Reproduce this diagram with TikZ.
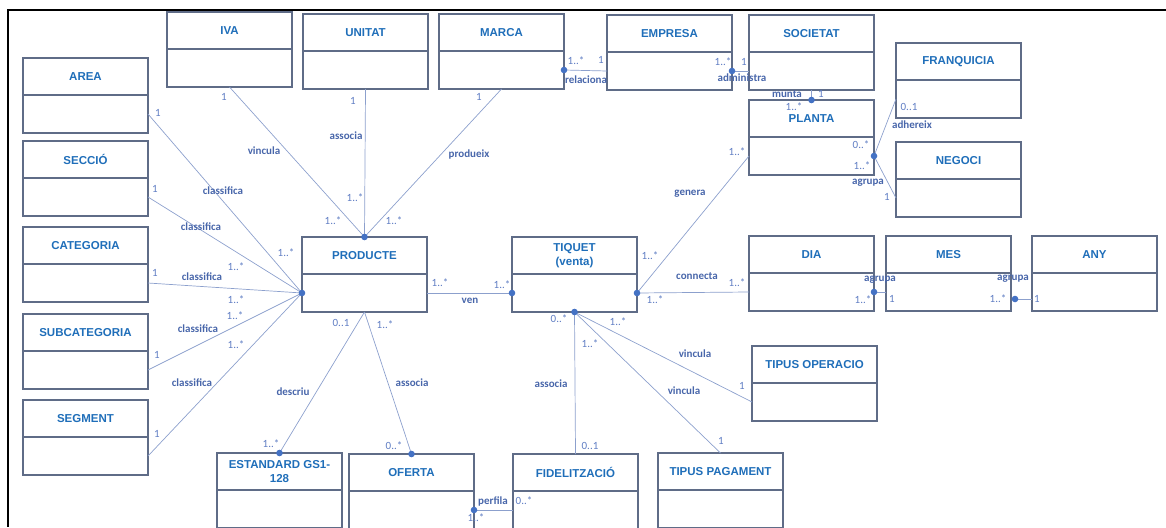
\documentclass[tikz,border=0pt]{standalone}
\usepackage{fontspec}
\usepackage{xcolor}
\usepackage{tikz}
\setmainfont{Liberation Sans}
\newfontfamily\lblfont{Carlito}
\usetikzlibrary{positioning}

\definecolor{titleblue}{RGB}{31,110,185}
\definecolor{rolblue}{RGB}{72,102,170}
\definecolor{multblue}{RGB}{95,125,195}
\definecolor{boxgrey}{RGB}{95,108,135}
\definecolor{linkblue}{RGB}{140,160,205}
\definecolor{dotblue}{RGB}{68,114,196}

\newcommand{\umlclass}[4]{%
  \node[classhead] (#1) at (#2,#3) {#4};
  \node[classbody, below=0pt of #1] (#1-b) {};
}

\begin{document}
\begin{tikzpicture}[x=1pt,y=-1pt,
  classhead/.style={draw=boxgrey, line width=1.2pt, anchor=north west, minimum width=125pt,
    minimum height=37pt, inner sep=0pt, outer sep=0pt, align=center, text=titleblue,
    font=\bfseries\fontsize{11.5}{14}\selectfont},
  classbody/.style={draw=boxgrey, line width=1.2pt, minimum width=125pt, minimum height=38pt,
    inner sep=0pt, outer sep=0pt},
  link/.style={draw=linkblue, line width=0.7pt},
  mult/.style={text=multblue, inner sep=0pt, font=\lblfont\fontsize{11}{12}\selectfont},
  rol/.style={text=rolblue, inner sep=0pt, font=\lblfont\bfseries\fontsize{11}{12}\selectfont}]
\useasboundingbox (0,0) rectangle (1166,527);
\draw[line width=2.5pt] (1166,10) -- (8,10) -- (8,527);

\umlclass{iva}{167}{12}{IVA}
\umlclass{unitat}{303}{14}{UNITAT}
\umlclass{marca}{439}{14}{MARCA}
\umlclass{empresa}{607}{15}{EMPRESA}
\umlclass{societat}{749}{15}{SOCIETAT}
\umlclass{franquicia}{896}{43}{FRANQUICIA}
\umlclass{area}{23}{58}{AREA}
\umlclass{seccio}{23}{141}{SECCIÓ}
\umlclass{planta}{749}{100}{PLANTA}
\umlclass{negoci}{896}{142}{NEGOCI}
\umlclass{categoria}{23}{227}{CATEGORIA}
\umlclass{producte}{302}{237}{PRODUCTE}
\umlclass{tiquet}{512}{237}{TIQUET\\(venta)}
\umlclass{dia}{749}{236}{DIA}
\umlclass{mes}{886}{236}{MES}
\umlclass{any}{1032}{236}{ANY}
\umlclass{subcategoria}{23}{314}{SUBCATEGORIA}
\umlclass{operacio}{752}{346}{TIPUS OPERACIO}
\umlclass{segment}{23}{400}{SEGMENT}
\umlclass{estandard}{217}{453}{ESTANDARD GS1-\\128}
\umlclass{oferta}{349}{454}{OFERTA}
\umlclass{fidel}{513}{454}{FIDELITZACIÓ}
\umlclass{pagament}{658}{453}{TIPUS PAGAMENT}

\coordinate (mesdot) at ([xshift=4pt,yshift=-7pt]mes-b.east);

\draw[link] (iva-b.south) -- (producte.north);
\draw[link] (unitat-b.south) -- (producte.north);
\draw[link] (marca-b.south) -- (producte.north);
\draw[link] (area-b.east) -- (producte-b.west);
\draw[link] (seccio-b.east) -- (producte-b.west);
\draw[link] (categoria-b.east) -- (producte-b.west);
\draw[link] (subcategoria-b.east) -- (producte-b.west);
\draw[link] (segment-b.east) -- (producte-b.west);
\draw[link] (producte-b.east) -- (tiquet-b.west);
\draw[link] (producte-b.south) -- (estandard.north);
\draw[link] (producte-b.south) -- (oferta.north);
\draw[link] (oferta-b.east) -- (fidel-b.west);
\draw[link] (tiquet-b.south) -- (fidel.north);
\draw[link] (tiquet-b.south) -- (operacio-b.west);
\draw[link] (tiquet-b.south) -- (pagament.north);
\draw[link] (tiquet-b.east) -- (dia-b.west);
\draw[link] (tiquet-b.east) -- (planta-b.west);
\draw[link] (marca-b.east) -- (empresa-b.west);
\draw[link] (empresa-b.east) -- (societat-b.west);
\draw[link] (societat-b.south) -- (planta.north);
\draw[link] (planta-b.east) -- (franquicia-b.west);
\draw[link] (planta-b.east) -- (negoci-b.west);
\draw[link] (dia-b.east) -- (mes-b.west);
\draw[link] (mesdot) -- ([yshift=-7pt]any-b.west);

\foreach \p in {producte.north, producte-b.west, tiquet-b.west, tiquet-b.east, tiquet-b.south,
  estandard.north, oferta.north, oferta-b.east, marca-b.east, empresa-b.east, planta.north,
  planta-b.east, dia-b.east, mesdot}
  \fill[dotblue] (\p) circle (3.3pt);

\foreach \x/\y/\t [count=\i] in {224/97/1, 333/221/1..*, 353/101/1, 355/198/1..*, 479/97/1, 394/221/1..*,
  158/113/1, 286/253/1..*, 155/189/1, 236/267/1..*, 155/273/1, 236/300/1..*, 157/355/1, 235/316/1..*,
  157/434/1, 236/345/1..*, 440/283/1..*, 502/285/1..*, 341/323/0..1, 271/444/1..*, 385/325/1..*,
  394/446/0..*, 476/518/1..*, 524/501/0..*, 559/319/0..*, 590/446/0..1, 618/322/1..*, 742/386/1,
  590/344/1..*, 721/441/1, 655/300/1..*, 737/283/1..*, 650/256/1..*, 737/152/1..*, 576/61/1..*,
  601/60/1, 723/62/1..*, 744/62/1, 821/94/1, 794/107/1..*, 861/145/0..*, 909/107/0..1,
  862/166/1..*, 887/197/1, 863/300/1..*, 892/299/1, 998/299/1..*, 1037/299/1}
  \node[mult] (m\i) at (\x,\y) {\t};

\foreach \x/\y/\t [count=\i] in {264/151/vincula, 346/136/associa, 469/155/produeix,
  223/191/classifica, 201/227/classifica, 202/277/classifica, 198/329/classifica, 192/383/classifica,
  470/301/ven, 293/392/descriu, 412/383/associa, 493/501/perfila, 551/384/associa,
  695/354/vincula, 684/391/vincula, 697/276/connecta, 690/194/genera, 586/80/relaciona,
  742/78/administra, 787/94/munta, 868/183/agrupa, 912/125/adhereix, 880/280/agrupa, 1013/279/agrupa}
  \node[rol] (r\i) at (\x,\y) {\t};
\end{tikzpicture}
\end{document}
